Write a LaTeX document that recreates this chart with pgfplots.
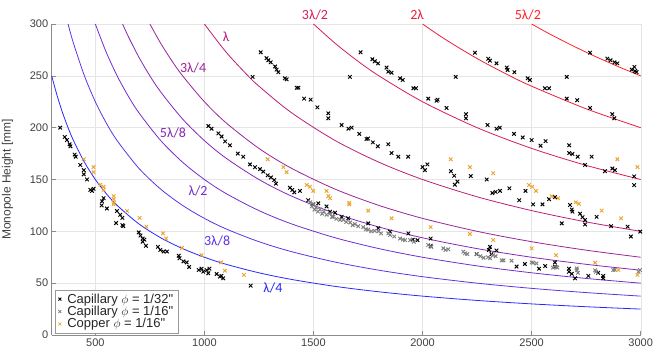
\documentclass[border=0pt]{standalone}
\usepackage{pgfplots}
\pgfplotsset{compat=1.18}
\usepackage{fontspec}
\setmainfont{Liberation Sans}
\newfontfamily\carl{Carlito}
\newfontfamily\nomap{Liberation Sans}[Ligatures=TeXOff]
\newcommand{\inch}{{\nomap"}}
\definecolor{c1}{RGB}{40,40,255}
\definecolor{c2}{RGB}{95,50,230}
\definecolor{c3}{RGB}{115,45,205}
\definecolor{c4}{RGB}{135,40,180}
\definecolor{c5}{RGB}{155,35,155}
\definecolor{c6}{RGB}{185,30,120}
\definecolor{c7}{RGB}{215,30,85}
\definecolor{c8}{RGB}{235,30,60}
\definecolor{c9}{RGB}{255,35,40}
\definecolor{cor}{RGB}{237,165,50}
\definecolor{gry}{RGB}{128,128,128}
\begin{document}
\begin{tikzpicture}
\useasboundingbox (0,0) rectangle (669pt,358pt);
\begin{axis}[
  at={(51.7pt,23pt)}, anchor=south west,
  width=589pt, height=311pt, scale only axis,
  xmin=300, xmax=3000, ymin=0, ymax=300,
  xtick={500,1000,1500,2000,2500,3000},
  ytick={0,50,100,150,200,250,300},
  axis x line*=bottom, axis y line*=left,
  axis line style={draw=black!45, line width=0.5pt},
  grid=major, major grid style={draw=black!10, line width=0.4pt},
  tick align=inside, major tick length=4pt,
  tick style={draw=black!45, line width=0.5pt},
  ticklabel style={font=\fontsize{11}{12}\selectfont, text=black!75},
  /pgf/number format/assume math mode=true,
  scaled ticks=false,
  x tick label style={/pgf/number format/1000 sep={}},
  ylabel={Monopole Height [mm]},
  ylabel style={at={(axis description cs:-0.075,0.5)}, anchor=center, font=\fontsize{12}{14}\selectfont, text=black!75},
  clip=false,
  legend style={font=\fontsize{13}{14}\selectfont, draw=black!40, at={(0.006,0.006)}, anchor=south west, inner xsep=3pt, inner ysep=1.5pt, row sep=-2.5pt, text=black!85,
    /tikz/every odd column/.append style={column sep=4pt}},
  legend image code/.code={\draw[#1, mark size=2pt, line width=0.8pt] plot coordinates {(0.1cm,0cm)};},
  legend cell align=left,
]
% theory curves
\addplot[c1, line width=0.8pt, mark=none, smooth, forget plot] coordinates {(300,250) (325,230.77) (350,214.29) (375,200) (400,187.5) (450,166.67) (500,150) (550,136.36) (600,125) (700,107.14) (800,93.75) (900,83.33) (1000,75) (1100,68.18) (1250,60) (1400,53.57) (1600,46.88) (1800,41.67) (2000,37.5) (2250,33.33) (2500,30) (2750,27.27) (3000,25)};
\addplot[c2, line width=0.8pt, mark=none, smooth, forget plot] coordinates {(375,300) (400,281.25) (450,250) (500,225) (550,204.55) (600,187.5) (700,160.71) (800,140.63) (900,125) (1000,112.5) (1100,102.27) (1250,90) (1400,80.36) (1600,70.31) (1800,62.5) (2000,56.25) (2250,50) (2500,45) (2750,40.91) (3000,37.5)};
\addplot[c3, line width=0.8pt, mark=none, smooth, forget plot] coordinates {(500,300) (550,272.73) (600,250) (650,230.77) (700,214.29) (800,187.5) (900,166.67) (1000,150) (1100,136.36) (1250,120) (1400,107.14) (1600,93.75) (1800,83.33) (2000,75) (2250,66.67) (2500,60) (2750,54.55) (3000,50)};
\addplot[c4, line width=0.8pt, mark=none, smooth, forget plot] coordinates {(625,300) (650,288.46) (700,267.86) (750,250) (800,234.38) (900,208.33) (1000,187.5) (1100,170.45) (1250,150) (1400,133.93) (1600,117.19) (1800,104.17) (2000,93.75) (2250,83.33) (2500,75) (2750,68.18) (3000,62.5)};
\addplot[c5, line width=0.8pt, mark=none, smooth, forget plot] coordinates {(750,300) (800,281.25) (850,264.71) (900,250) (1000,225) (1100,204.55) (1250,180) (1400,160.71) (1600,140.63) (1800,125) (2000,112.5) (2250,100) (2500,90) (2750,81.82) (3000,75)};
\addplot[c6, line width=0.8pt, mark=none, smooth, forget plot] coordinates {(1000,300) (1100,272.73) (1200,250) (1250,240) (1400,214.29) (1600,187.5) (1800,166.67) (2000,150) (2250,133.33) (2500,120) (2750,109.09) (3000,100)};
\addplot[c7, line width=0.8pt, mark=none, smooth, forget plot] coordinates {(1500,300) (1600,281.25) (1700,264.71) (1800,250) (2000,225) (2250,200) (2500,180) (2750,163.64) (3000,150)};
\addplot[c8, line width=0.8pt, mark=none, smooth, forget plot] coordinates {(2000,300) (2100,285.71) (2250,266.67) (2400,250) (2500,240) (2750,218.18) (3000,200)};
\addplot[c9, line width=0.8pt, mark=none, smooth, forget plot] coordinates {(2500,300) (2600,288.46) (2750,272.73) (2900,258.62) (3000,250)};
% measured data
\addplot[only marks, mark=x, mark size=2.5pt, black, line width=0.95pt] table {
x y
339 200
360 191
370 188
382 184
386 182
405 174
410 172
431 164
447 159
447 155
462 150
477 140
485 139
492 141
529 125
531 129
538 132
553 122
595 108
599 119.6
614 116
624 113
624 106
628 105
699 99
707 96
717 93
725 92
717 90
732 86
787 85
798 82
813 80.5
828 80.5
882 76.5
886 74
904 71
919 70
930 65.6
974 62.7
987 64
995 61
1010 62.6
1018 59.5
1023 64
1056 58.8
1071 56.3
1078 57
1086 54.7
1212 47.6
1018 201.6
1033 199
1064 194.5
1079 191.5
1095 186.7
1117 183
1153 175
1178 172
1209 164.6
1232 161.8
1255 160
1270 157.6
1290 154
1305 152
1320 149.5
1328 146
1392 142
1403 140
1412 137.6
1438 139
1476 130
1499 126
1522 127
1560 124
1576 119
1599 118
1629 114
1659 112.6
1751 107.7
1797 103
1851 99.7
1935 98
1955 92
1977 91.5
2037 93
2037 86
2248 78
2309 85
2304 82
2316 78
2339 81.5
2431 66
2469 68.5
2534 64
2562 66.5
2607 70
2607 66
2671 64
2671 61
2684 59
2699 54.7
2760 57
2805 60
2828 54.7
2828 57
1221 249
1258 272.7
1285 267
1293 265
1304 263
1324 259
1331 256
1339 253.5
1369 247.6
1377 246.6
1423 238.5
1431 238.5
1457 228
1487 227
1518 219.6
1568 213.8
1568 209
1629 202.6
1660 199
1675 200
1710 194
1743 189
1750 189.5
1772 185.8
1795 182
1843 184
1858 175.5
1889 172
1934 172
2000 162
2011 159
2022 164.6
2130 158
2145 153.6
2160 148
2148 145
2221 153.3
2294 150
2320 137
2335 138
2355 139
2398 141.5
2443 130
2472 139
2507 126
2550 126
2580 131
2607 133
2638 107.7
2676 125.4
2684 121
2687 119
2722 117
2733 113.6
2745 111
2745 106.6
2798 114
2864 105
2940 104.5
2955 95
2998 99.7
2970 153
2970 144.6
1667 249
1716 272.7
1770 266
1781 264
1796 262
1835 258
1843 254
1858 253
1897 247.6
1909 246
1958 238
1970 238
2026 228
2064 226
2069 227
2110 219
2199 213
2199 209
2298 202.6
2339 199
2354 200
2419 194
2459 190.6
2500 188
2541 182.6
2564 187
2672 183
2672 175.5
2687 174.6
2711 172
2775 172
2745 164
2836 158
2870 160.6
2882 159
2152 249
2240 272.3
2301 266.5
2309 264.6
2339 262
2386 258
2390 255.6
2421 253.5
2482 247.6
2492 246
2561 238
2580 238
2661 249
2661 228
2709 226.5
2768 219
2870 213
2879 209
2768 272.3
2847 266.6
2862 265
2880 263
2893 262
2959 256
2971 258.6
2974 254.6
2981 253.6
};
\addlegendentry{Capillary $\phi$ = 1/32\inch}
\addplot[only marks, mark=x, mark size=2.5pt, gry, line width=0.95pt] table {
x y
1485 128
1492 124
1500 126
1505 121
1512 123
1520 119
1530 121
1540 117
1548 119
1560 116
1576 117
1585 114
1591 114
1605 112
1622 111
1637 111
1650 109
1668 108.5
1680 106
1690 107
1705 105
1728 104
1740 102
1751 101.6
1765 100
1780 100.5
1797 100
1810 98
1843 98
1851 96.5
1870 95
1897 93
1910 92
1920 91.5
1943 91.5
1960 90
2026 86.8
2040 85
2095 83.6
2105 82
2118 82.7
2187 80.4
2194 78.8
2205 78
2248 78
2265 76
2280 74.5
2300 75
2310 74
2323 77
2335 76
2363 72
2371 72
2408 71.7
2500 70
2507 69.7
2522 69
2598 65
2614 65.6
2618 65
2707 64.3
2707 62.7
2712 60
2791 62.4
2795 61
2874 62.7
2882 63
2997 62.7
2990 61
};
\addlegendentry{Capillary $\phi$ = 1/16\inch}
\addplot[only marks, mark=x, mark size=2.5pt, cor, line width=0.95pt] table {
x y
447 169.5
492 162
492 157
523 145
538 143
538 140
584 134
584 131
584 127.5
584 126
645 119.6
703 113
734 104.5
810 98
824 93
897 84
987 77
1076 70
1094 62
1181 58
1290 169.5
1362 162
1377 157
1469 144.7
1484 143
1499 139
1560 139
1568 134
1576 132
1664 127.6
1664 126
1751 120
1858 112.6
2037 104
2217 97.4
2129 169.5
2217 162
2324 156
2488 144.7
2503 143
2520 139
2592 133.8
2621 132
2702 128
2717 126.5
2821 120
2910 112.6
2500 83.6
2612 77
2791 69.7
2898 62.7
2985 58
2324 91.6
2893 169.5
2985 162
};
\addlegendentry{Copper $\phi$ = 1/16\inch}
% curve labels
\node[text=c1, font=\carl\fontsize{14}{16}\selectfont] at (axis cs:1314,45) {λ/4};
\node[text=c2, font=\carl\fontsize{14}{16}\selectfont] at (axis cs:1058,91) {3λ/8};
\node[text=c3, font=\carl\fontsize{14}{16}\selectfont] at (axis cs:971,139) {λ/2};
\node[text=c4, font=\carl\fontsize{14}{16}\selectfont] at (axis cs:856,195) {5λ/8};
\node[text=c5, font=\carl\fontsize{14}{16}\selectfont] at (axis cs:948,258) {3λ/4};
\node[text=c6, font=\carl\fontsize{14}{16}\selectfont] at (axis cs:1099,288) {λ};
\node[text=c7, font=\carl\fontsize{14}{16}\selectfont] at (axis cs:1507,309) {3λ/2};
\node[text=c8, font=\carl\fontsize{14}{16}\selectfont] at (axis cs:1975,309) {2λ};
\node[text=c9, font=\carl\fontsize{14}{16}\selectfont] at (axis cs:2483,309) {5λ/2};
\end{axis}
\end{tikzpicture}
\end{document}
